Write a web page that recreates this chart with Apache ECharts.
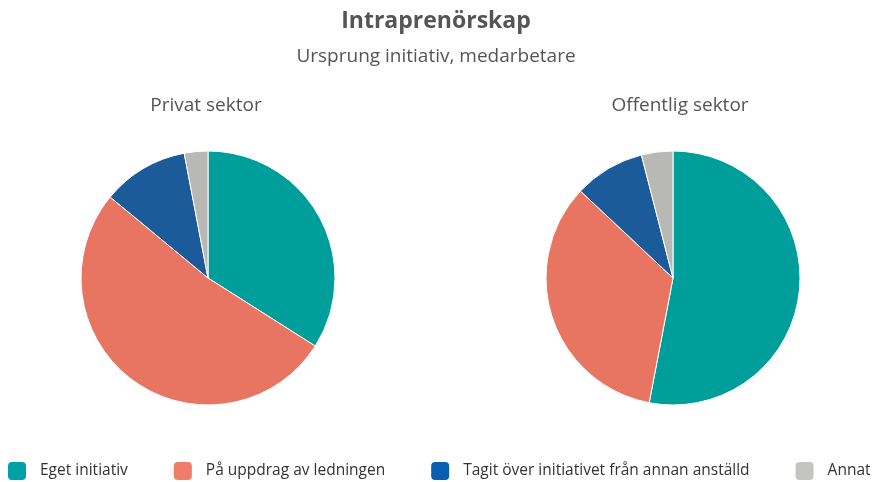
<!DOCTYPE html>
<html>
<head>
    <meta charset="utf-8">
    <title>Intraprenörskap</title>
    <script src="https://cdn.jsdelivr.net/npm/echarts@6/dist/echarts.min.js"></script>
    <style>
      body { padding: 0; margin: 0; background: #fff; }
      #main { width: 872px; height: 482px; }
    </style>
</head>
<body>
  <div id="main"></div>
  <script type="text/javascript">
    const categories = ['Eget initiativ', 'På uppdrag av ledningen', 'Tagit över initiativet från annan anställd', 'Annat']
    const privatValues = [34, 52, 11, 3]
    const offentligValues = [53, 34, 9, 4]
    const pieColors = ['#009e9a', '#e87561', '#1b5b9a', '#b8b8b4']
    const legendColors = ['#00a0a6', '#f07d6a', '#0a5eb0', '#c4c4c0']

    const font = '"Open Sans", "DejaVu Sans", sans-serif'
    const myChart = echarts.init(document.getElementById('main'))

    const toData = vals => vals.map((v, i) => ({
      name: categories[i],
      value: v,
      itemStyle: { color: pieColors[i] }
    }))

    const pie = (center, vals) => ({
      type: 'pie',
      radius: 127,
      center: center,
      startAngle: 90,
      clockwise: true,
      animation: false,
      label: { show: false },
      labelLine: { show: false },
      itemStyle: { borderColor: '#fff', borderWidth: 1 },
      emphasis: { disabled: true },
      data: toData(vals)
    })

    const option = {
      backgroundColor: '#fff',
      animation: false,
      title: [
        { text: 'Intraprenörskap', left: 'center', top: 5,
          textStyle: { fontFamily: font, fontSize: 23, fontWeight: 'bold', color: '#555' } },
        { text: 'Ursprung initiativ, medarbetare', left: 'center', top: 42,
          textStyle: { fontFamily: font, fontSize: 19, fontWeight: 'normal', color: '#555' } },
        { text: 'Privat sektor', left: 201, top: 91, textAlign: 'center',
          textStyle: { fontFamily: font, fontSize: 19, fontWeight: 'normal', color: '#555' } },
        { text: 'Offentlig sektor', left: 675, top: 91, textAlign: 'center',
          textStyle: { fontFamily: font, fontSize: 19, fontWeight: 'normal', color: '#555' } }
      ],
      legend: {
        bottom: 0,
        left: 6,
        width: 900,
        padding: 0,
        itemWidth: 20,
        itemHeight: 20,
        itemGap: 44,
        icon: 'roundRect',
        textStyle: { fontFamily: font, fontSize: 15.5, color: '#333', padding: [0, 0, 0, 8] },
        data: categories.map((c, i) => ({ name: c, itemStyle: { color: legendColors[i] } }))
      },
      series: [
        pie([208, 278], privatValues),
        pie([673, 278], offentligValues)
      ]
    }
    myChart.setOption(option)
  </script>
</body>
</html>
